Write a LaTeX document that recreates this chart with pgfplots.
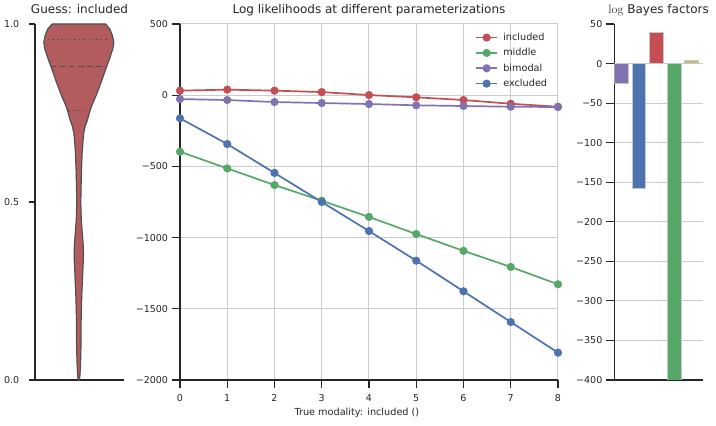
\documentclass[border=0pt]{standalone}
\usepackage{pgfplots}
\pgfplotsset{compat=1.18}
\usepackage[no-math]{fontspec}
\setmainfont{DejaVu Sans}
\definecolor{cred}{HTML}{C44E52}
\definecolor{cgreen}{HTML}{55A868}
\definecolor{cpurple}{HTML}{8172B2}
\definecolor{cblue}{HTML}{4C72B0}
\definecolor{cyellow}{HTML}{CCB974}
\definecolor{txt}{HTML}{262626}
\definecolor{vfill}{HTML}{B35C5F}
\definecolor{vedge}{HTML}{505050}
\definecolor{gridc}{HTML}{CCCCCC}
\pgfplotsset{
  base/.style={
    scale only axis, height=356bp,
    axis lines*=left, tick pos=left,
    axis line style={txt, line width=1.1bp},
    tick style={txt, line width=1.1bp},
    tick align=outside,
    every tick label/.append style={font=\fontsize{9.5bp}{11bp}\selectfont, text=txt, inner sep=0pt},
    yticklabel style={anchor=east, xshift=-3.8bp},
    xticklabel style={anchor=north, yshift=-5.9bp},
    title style={font=\fontsize{12bp}{14bp}\selectfont, text=txt, at={(0.5,1)}, anchor=base, yshift=5bp, inner sep=0pt},
    /pgf/number format/assume math mode=true,
  },
}
\begin{document}
\begin{tikzpicture}
\path[use as bounding box] (0,0) rectangle (716bp,426bp);
% ---------- violin ----------
\begin{axis}[base, at={(35bp,46bp)}, anchor=south west, width=89bp,
  xmin=-43.8, xmax=45.2, ymin=0, ymax=1,
  xtick=\empty, ytick={0,0.5,1}, yticklabels={0.0,0.5,1.0},
  major tick length=6bp,
  yticklabel style={xshift=-5.8bp},
  title={Guess: included}, clip=false]
\addplot[fill=vfill, draw=vedge, line width=1.2bp, line join=round] coordinates {
(0.6,0) (1.2,0.014) (1.8,0.051) (2.2,0.098) (2.2,0.145) (2.5,0.192) (3.0,0.239) (3.7,0.286) (4.3,0.323) (4.7,0.351) (4.4,0.380) (3.5,0.412) (2.5,0.450) (2.0,0.497) (2.3,0.543) (2.7,0.590) (3.3,0.637) (4.3,0.675) (5.0,0.694) (6.3,0.712) (8.7,0.731) (11.3,0.757) (13,0.771) (17.3,0.799) (22.3,0.836) (27,0.874) (30.7,0.902) (34,0.930) (35,0.948) (33.7,0.967) (31,0.986) (26.7,1.0)
(-26.7,1.0) (-31,0.986) (-33.7,0.967) (-35,0.948) (-34,0.930) (-30.7,0.902) (-27,0.874) (-22.3,0.836) (-17.3,0.799) (-13,0.771) (-11.3,0.757) (-8.7,0.731) (-6.3,0.712) (-5.0,0.694) (-4.3,0.675) (-3.3,0.637) (-2.7,0.590) (-2.3,0.543) (-2.0,0.497) (-2.5,0.450) (-3.5,0.412) (-4.4,0.380) (-4.7,0.351) (-4.3,0.323) (-3.7,0.286) (-3.0,0.239) (-2.5,0.192) (-2.2,0.145) (-2.2,0.098) (-1.8,0.051) (-1.2,0.014) (-0.6,0)
} -- cycle;
\addplot[vedge, line width=1.5bp, dash pattern=on 1.4bp off 3bp] coordinates {(-30.8,0.956) (30.8,0.956)};
\addplot[vedge, line width=1.5bp, dash pattern=on 5.5bp off 3.5bp] coordinates {(-27.8,0.881) (27.8,0.881)};
\addplot[vedge, line width=1.5bp, dash pattern=on 1.4bp off 3bp] coordinates {(-10.3,0.757) (10.3,0.757)};
\end{axis}
% ---------- log likelihoods ----------
\begin{axis}[base, at={(180bp,46bp)}, anchor=south west, width=378bp,
  xmin=0, xmax=8, ymin=-2000, ymax=500,
  xtick={0,1,2,3,4,5,6,7,8},
  ytick={-2000,-1500,-1000,-500,0,500},
  yticklabels={−2000,−1500,−1000,−500,0,500},
  major tick length=8bp,
  grid=major, grid style={gridc, line width=1bp},
  title={Log likelihoods at different parameterizations},
  xlabel={True modality: included ()},
  xlabel style={at={(axis description cs:0.468,0)}, anchor=base, yshift=-35.6bp, font=\fontsize{9.7bp}{11bp}\selectfont, text=txt, inner sep=0pt},
  clip=false,
  every axis plot/.append style={line width=1.7bp, mark=*, mark size=3.2bp},
  legend style={at={(0.772,0.986)}, anchor=north west, draw=none, fill=none,
    font=\fontsize{9.7bp}{11bp}\selectfont, text=txt, row sep=2.5bp, column sep=3bp},
  legend cell align=left,
  legend image code/.code={\draw[mark repeat=2,mark phase=2] plot coordinates {(0bp,0bp) (10.8bp,0bp) (21.6bp,0bp)};},
  ]
\addplot[cred, mark options={fill=cred, draw=cred}] coordinates {(0,32) (1,39) (2,32) (3,22) (4,1) (5,-15) (6,-34) (7,-60) (8,-81)};
\addlegendentry{included}
\addplot[cgreen, mark options={fill=cgreen, draw=cgreen}] coordinates {(0,-397) (1,-514) (2,-631) (3,-741) (4,-855) (5,-975) (6,-1093) (7,-1206) (8,-1328)};
\addlegendentry{middle}
\addplot[cpurple, mark options={fill=cpurple, draw=cpurple}] coordinates {(0,-27) (1,-34) (2,-48) (3,-55) (4,-62) (5,-71) (6,-76) (7,-81) (8,-83)};
\addlegendentry{bimodal}
\addplot[cblue, mark options={fill=cblue, draw=cblue}] coordinates {(0,-162) (1,-343) (2,-546) (3,-750) (4,-954) (5,-1162) (6,-1377) (7,-1593) (8,-1808)};
\addlegendentry{excluded}
\end{axis}
% ---------- log Bayes factors ----------
\begin{axis}[base, at={(614.3bp,46bp)}, anchor=south west, width=88.7bp,
  xmin=-0.4, xmax=4.64, ymin=-400, ymax=50,
  xtick=\empty,
  ytick={-400,-350,-300,-250,-200,-150,-100,-50,0},
  yticklabels={−400,−350,−300,−250,−200,−150,−100,−50,0},
  extra y ticks={50}, extra y tick labels={50}, extra tick style={grid=none},
  major tick length=8bp,
  ymajorgrids, grid style={gridc, line width=1bp},
  title={$\log$ Bayes factors},
  every axis plot/.append style={ybar, bar width=13.7bp, bar shift=0pt, draw=white!78!black, line width=0.9bp},
  ]
\addplot[fill=cpurple] coordinates {(0,-25)};
\addplot[fill=cblue] coordinates {(1,-158)};
\addplot[fill=cred] coordinates {(2,39)};
\addplot[fill=cgreen] coordinates {(3,-400)};
\addplot[fill=cyellow] coordinates {(4,3.5)};
\end{axis}
\end{tikzpicture}
\end{document}
